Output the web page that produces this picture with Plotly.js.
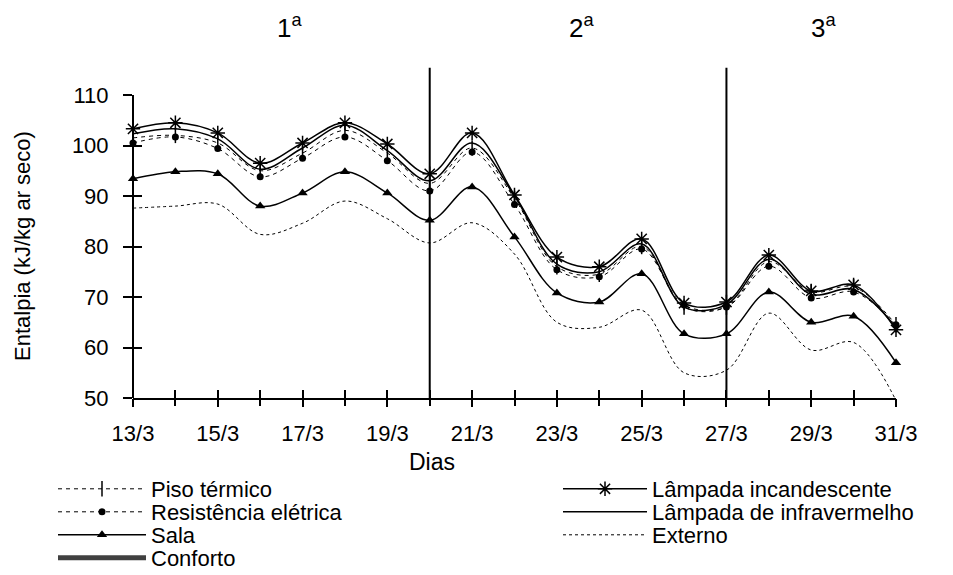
<!DOCTYPE html>
<html>
<head>
<meta charset="utf-8">
<script src="https://cdn.plot.ly/plotly-3.0.1.min.js"></script>
<style>html,body{margin:0;padding:0;background:#fff;}#chart{width:953px;height:575px;}</style>
</head>
<body>
<div id="chart"></div>
<script>
const days = [13,14,15,16,17,18,19,20,21,22,23,24,25,26,27,28,29,30,31];
const labelDays = [13,15,17,19,21,23,25,27,29,31];
const dayLabels = ["13/3","15/3","17/3","19/3","21/3","23/3","25/3","27/3","29/3","31/3"];
const yTicks = [50,60,70,80,90,100,110];
const phaseDays = [20,27];
const phaseLabels = ["1<sup>a</sup>","2<sup>a</sup>","3<sup>a</sup>"];

const pisoTermico     = [101.5,102.0,100.5,95.0,98.5,103.0,98.5,92.5,99.5,89.5,76.0,74.5,80.0,68.0,68.0,77.0,71.0,72.0,64.5];
const resistencia     = [100.5,101.7,99.4,93.8,97.5,101.7,97.0,91.0,98.7,88.3,75.4,74.0,79.5,68.4,68.0,76.1,69.8,71.0,64.5];
const sala            = [93.4,94.8,94.4,88.0,90.6,94.8,90.6,85.2,91.8,81.9,70.8,69.0,74.6,62.7,62.7,71.0,65.0,66.2,57.0];
const conforto        = [null];
const incandescente   = [103.3,104.5,102.5,96.5,100.5,104.5,100.3,94.4,102.5,90.2,77.9,76.0,81.5,68.8,69.0,78.3,71.2,72.4,63.5];
const infravermelho   = [102.3,103.3,101.3,95.3,99.5,104.0,99.0,93.0,100.5,90.0,76.5,75.0,80.5,68.0,68.5,77.5,70.5,71.5,64.0];
const externo         = [87.6,88.0,88.4,82.4,84.6,89.0,85.5,80.7,84.7,78.5,65.0,64.0,67.4,55.0,55.5,66.8,59.5,61.0,49.5];

const F = "Liberation Sans, Arial, sans-serif";
const W = 953, H = 575;
function tr(name, y, line, marker, legend){
  const t = {x: days.slice(0, y.length), y: y, name: name, type: "scatter",
    mode: marker ? "lines+markers" : "lines",
    line: Object.assign({color:"#000", shape:"spline", smoothing:1}, line),
    legend: legend, cliponaxis:false};
  if (marker) t.marker = marker;
  return t;
}
const data = [
  tr("Piso térmico", pisoTermico, {width:1, dash:"4px,4px"}, {symbol:"line-ns-open", size:11, line:{color:"#000", width:1.5}}, "legend"),
  tr("Resistência elétrica", resistencia, {width:1, dash:"4px,4px"}, {symbol:"circle", size:7, color:"#000"}, "legend2"),
  tr("Sala", sala, {width:1.5}, {symbol:"triangle-up", size:9, color:"#000"}, "legend3"),
  {x: days.slice(0,1), y: conforto, name:"Conforto", type:"scatter", mode:"lines", line:{color:"#404040", width:5}, legend:"legend4"},
  tr("Lâmpada incandescente", incandescente, {width:1.5}, {symbol:"asterisk-open", size:12, line:{color:"#000", width:1.5}}, "legend5"),
  tr("Lâmpada de infravermelho", infravermelho, {width:1.5}, null, "legend6"),
  tr("Externo", externo, {width:1, dash:"3px,3px"}, null, "legend7")
];
const shapes = phaseDays.map(d => ({type:"line", xref:"x", yref:"paper", x0:d, x1:d, y0:0, y1:1.09, line:{color:"#000", width:2}}));
shapes.push({type:"line", xref:"paper", yref:"y", x0:0, x1:0, y0:yTicks[0], y1:yTicks[yTicks.length-1], line:{color:"#000", width:2}});

function leg(px, py, iw){
  return {xref:"container", yref:"container", x:px/W, y:1-py/H, xanchor:"left", yanchor:"middle",
    bgcolor:"rgba(0,0,0,0)", borderwidth:0, font:{size:22, family:F, color:"#000"}, itemwidth:iw, tracegroupgap:0};
}
const rowY = [489, 512, 535, 558];
const noAx = {showline:false, showgrid:false, zeroline:false, showticklabels:false};
const layout = {
  width:W, height:H,
  margin:{l:133, r:57, t:95, b:177, autoexpand:false},
  paper_bgcolor:"#fff", plot_bgcolor:"#fff",
  font:{family:F, color:"#000", size:22},
  showlegend:true,
  xaxis:{range:[13,31], tickvals:labelDays, ticktext:dayLabels, ticks:"outside", ticklen:7, tickwidth:2, tickcolor:"#000",
    ticklabelstandoff:8, showline:true, linewidth:2, linecolor:"#000", showgrid:false, zeroline:false, tickfont:{size:22, family:F}},
  xaxis2:Object.assign({range:[13,31], overlaying:"x", tickvals:days, ticks:"inside", ticklen:8, tickwidth:2, tickcolor:"#000"}, noAx),
  xaxis3:Object.assign({range:[13,31], overlaying:"x", tickvals:days, ticks:"outside", ticklen:7, tickwidth:2, tickcolor:"#000"}, noAx),
  yaxis:{range:[50,110], tickvals:yTicks, ticks:"outside", ticklen:9, tickwidth:2, tickcolor:"#000", ticklabelstandoff:10,
    showline:false, showgrid:false, zeroline:false, tickfont:{size:22, family:F}},
  yaxis2:Object.assign({range:[50,110], overlaying:"y", tickvals:yTicks, ticks:"inside", ticklen:9, tickwidth:2, tickcolor:"#000"}, noAx),
  shapes: shapes,
  annotations:[
    {text:"Dias", xref:"paper", yref:"paper", x:(432-133)/763, y:(398-462)/303, showarrow:false, font:{size:23, family:F}, xanchor:"center", yanchor:"middle"},
    {text:"Entalpia (kJ/kg ar seco)", xref:"paper", yref:"paper", x:(22-133)/763, y:(398-246)/303, textangle:-90, showarrow:false, font:{size:22, family:F}, xanchor:"center", yanchor:"middle"},
    {text:phaseLabels[0], xref:"paper", yref:"paper", x:(289-133)/763, y:(398-27)/303, showarrow:false, font:{size:26, family:F}, xanchor:"center", yanchor:"middle"},
    {text:phaseLabels[1], xref:"paper", yref:"paper", x:(581-133)/763, y:(398-27)/303, showarrow:false, font:{size:26, family:F}, xanchor:"center", yanchor:"middle"},
    {text:phaseLabels[2], xref:"paper", yref:"paper", x:(823-133)/763, y:(398-27)/303, showarrow:false, font:{size:26, family:F}, xanchor:"center", yanchor:"middle"}
  ],
  legend: leg(53, rowY[0], 88),
  legend2: leg(53, rowY[1], 88),
  legend3: leg(53, rowY[2], 88),
  legend4: leg(53, rowY[3], 88),
  legend5: leg(558, rowY[0], 84),
  legend6: leg(558, rowY[1], 84),
  legend7: leg(558, rowY[2], 84)
};
data.push({x:days.slice(0,1), y:[null], xaxis:"x2", yaxis:"y2", showlegend:false, type:"scatter", mode:"lines"});
data.push({x:days.slice(0,1), y:[null], xaxis:"x3", yaxis:"y", showlegend:false, type:"scatter", mode:"lines"});
Plotly.newPlot("chart", data, layout, {displayModeBar:false, staticPlot:true});
</script>
</body>
</html>
